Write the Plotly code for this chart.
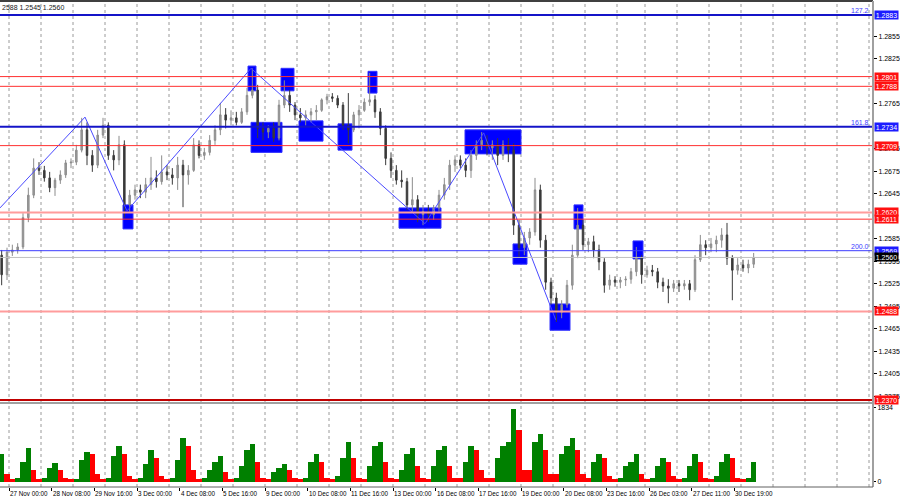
import plotly.graph_objects as go

# ---------------- data (4-hour candles, hour index from 26 Nov 17:00) ----------------
opens = [
    1.2563, 1.2537, 1.2567, 1.2570, 1.2574, 1.2613, 1.2643, 1.2679, 1.2676, 1.2666,
    1.2653, 1.2663, 1.2670, 1.2686, 1.2687, 1.2703, 1.2730, 1.2696, 1.2683, 1.2723,
    1.2736, 1.2696, 1.2690, 1.2710, 1.2630, 1.2643, 1.2650, 1.2647, 1.2657, 1.2666,
    1.2661, 1.2674, 1.2670, 1.2666, 1.2683, 1.2670, 1.2676, 1.2710, 1.2696, 1.2700,
    1.2716, 1.2730, 1.2750, 1.2743, 1.2746, 1.2740, 1.2754, 1.2776, 1.2783, 1.2732,
    1.2727, 1.2732, 1.2719, 1.2763, 1.2776, 1.2763, 1.2750, 1.2746, 1.2750, 1.2754,
    1.2756, 1.2770, 1.2774, 1.2772, 1.2763, 1.2736, 1.2730, 1.2750, 1.2756, 1.2767,
    1.2770, 1.2754, 1.2732, 1.2692, 1.2676, 1.2663, 1.2661, 1.2630, 1.2637, 1.2617,
    1.2621, 1.2617, 1.2626, 1.2643, 1.2657, 1.2683, 1.2690, 1.2683, 1.2676, 1.2696,
    1.2710, 1.2716, 1.2706, 1.2710, 1.2696, 1.2710, 1.2703, 1.2603, 1.2573, 1.2586,
    1.2594, 1.2650, 1.2583, 1.2527, 1.2506, 1.2487, 1.2497, 1.2523, 1.2563, 1.2603,
    1.2577, 1.2581, 1.2570, 1.2554, 1.2523, 1.2530, 1.2527, 1.2530, 1.2531, 1.2541,
    1.2559, 1.2537, 1.2543, 1.2541, 1.2527, 1.2522, 1.2519, 1.2525, 1.2522, 1.2525,
    1.2517, 1.2557, 1.2577, 1.2573, 1.2578, 1.2583, 1.2590, 1.2559, 1.2543, 1.2550,
    1.2546, 1.2551,
]
highs = [
    1.2570, 1.2573, 1.2577, 1.2579, 1.2619, 1.2653, 1.2692, 1.2687, 1.2682, 1.2674,
    1.2666, 1.2676, 1.2690, 1.2692, 1.2710, 1.2746, 1.2740, 1.2703, 1.2730, 1.2746,
    1.2740, 1.2703, 1.2722, 1.2716, 1.2650, 1.2657, 1.2657, 1.2666, 1.2694, 1.2676,
    1.2696, 1.2683, 1.2679, 1.2694, 1.2690, 1.2683, 1.2719, 1.2716, 1.2706, 1.2723,
    1.2736, 1.2766, 1.2759, 1.2756, 1.2754, 1.2759, 1.2786, 1.2812, 1.2790, 1.2740,
    1.2736, 1.2740, 1.2770, 1.2796, 1.2783, 1.2767, 1.2759, 1.2756, 1.2759, 1.2763,
    1.2772, 1.2778, 1.2779, 1.2776, 1.2767, 1.2779, 1.2754, 1.2763, 1.2772, 1.2806,
    1.2776, 1.2759, 1.2736, 1.2700, 1.2683, 1.2676, 1.2666, 1.2667, 1.2643, 1.2630,
    1.2630, 1.2630, 1.2650, 1.2666, 1.2690, 1.2696, 1.2696, 1.2692, 1.2703, 1.2716,
    1.2727, 1.2723, 1.2716, 1.2719, 1.2716, 1.2719, 1.2712, 1.2610, 1.2594, 1.2599,
    1.2666, 1.2657, 1.2590, 1.2533, 1.2513, 1.2503, 1.2530, 1.2577, 1.2626, 1.2610,
    1.2586, 1.2589, 1.2577, 1.2559, 1.2537, 1.2535, 1.2534, 1.2535, 1.2546, 1.2574,
    1.2563, 1.2549, 1.2550, 1.2546, 1.2533, 1.2531, 1.2530, 1.2530, 1.2530, 1.2530,
    1.2563, 1.2590, 1.2583, 1.2586, 1.2589, 1.2599, 1.2606, 1.2563, 1.2559, 1.2557,
    1.2557, 1.2566,
]
lows = [
    1.2523, 1.2530, 1.2562, 1.2565, 1.2571, 1.2607, 1.2639, 1.2670, 1.2661, 1.2647,
    1.2642, 1.2658, 1.2666, 1.2679, 1.2683, 1.2700, 1.2683, 1.2674, 1.2679, 1.2719,
    1.2690, 1.2676, 1.2683, 1.2613, 1.2621, 1.2637, 1.2639, 1.2639, 1.2650, 1.2653,
    1.2657, 1.2663, 1.2657, 1.2650, 1.2627, 1.2657, 1.2674, 1.2692, 1.2690, 1.2696,
    1.2710, 1.2723, 1.2732, 1.2736, 1.2736, 1.2738, 1.2750, 1.2772, 1.2719, 1.2716,
    1.2719, 1.2714, 1.2716, 1.2759, 1.2754, 1.2743, 1.2740, 1.2736, 1.2740, 1.2743,
    1.2754, 1.2764, 1.2767, 1.2759, 1.2730, 1.2712, 1.2727, 1.2732, 1.2754, 1.2762,
    1.2746, 1.2723, 1.2683, 1.2666, 1.2657, 1.2653, 1.2623, 1.2621, 1.2607, 1.2603,
    1.2607, 1.2610, 1.2621, 1.2637, 1.2650, 1.2674, 1.2679, 1.2667, 1.2666, 1.2690,
    1.2703, 1.2696, 1.2690, 1.2683, 1.2690, 1.2687, 1.2590, 1.2561, 1.2563, 1.2577,
    1.2589, 1.2573, 1.2517, 1.2497, 1.2474, 1.2479, 1.2493, 1.2517, 1.2559, 1.2570,
    1.2567, 1.2559, 1.2543, 1.2513, 1.2517, 1.2521, 1.2519, 1.2522, 1.2525, 1.2535,
    1.2525, 1.2533, 1.2535, 1.2519, 1.2514, 1.2499, 1.2514, 1.2514, 1.2517, 1.2503,
    1.2514, 1.2554, 1.2563, 1.2567, 1.2567, 1.2573, 1.2550, 1.2503, 1.2537, 1.2541,
    1.2539, 1.2546,
]
closes = [
    1.2537, 1.2567, 1.2570, 1.2574, 1.2613, 1.2643, 1.2679, 1.2676, 1.2666, 1.2653,
    1.2663, 1.2670, 1.2686, 1.2687, 1.2703, 1.2730, 1.2696, 1.2683, 1.2723, 1.2736,
    1.2696, 1.2690, 1.2710, 1.2630, 1.2643, 1.2650, 1.2647, 1.2657, 1.2666, 1.2661,
    1.2674, 1.2670, 1.2666, 1.2683, 1.2670, 1.2676, 1.2710, 1.2696, 1.2700, 1.2716,
    1.2730, 1.2750, 1.2743, 1.2746, 1.2740, 1.2754, 1.2776, 1.2783, 1.2732, 1.2727,
    1.2732, 1.2719, 1.2763, 1.2776, 1.2763, 1.2750, 1.2746, 1.2750, 1.2754, 1.2756,
    1.2770, 1.2774, 1.2772, 1.2763, 1.2736, 1.2730, 1.2750, 1.2756, 1.2767, 1.2770,
    1.2754, 1.2732, 1.2692, 1.2676, 1.2663, 1.2661, 1.2630, 1.2637, 1.2617, 1.2621,
    1.2617, 1.2626, 1.2643, 1.2657, 1.2683, 1.2690, 1.2683, 1.2676, 1.2696, 1.2710,
    1.2716, 1.2706, 1.2710, 1.2696, 1.2710, 1.2703, 1.2603, 1.2573, 1.2586, 1.2594,
    1.2650, 1.2583, 1.2527, 1.2506, 1.2487, 1.2497, 1.2523, 1.2563, 1.2603, 1.2577,
    1.2581, 1.2570, 1.2554, 1.2523, 1.2530, 1.2527, 1.2530, 1.2531, 1.2541, 1.2559,
    1.2537, 1.2543, 1.2541, 1.2527, 1.2522, 1.2519, 1.2525, 1.2522, 1.2525, 1.2517,
    1.2557, 1.2577, 1.2573, 1.2578, 1.2583, 1.2590, 1.2559, 1.2543, 1.2550, 1.2546,
    1.2551, 1.2560,
]
volumes = [
    700, 200, 80, 100, 500, 850, 300, 80, 90, 350,
    480, 300, 100, 70, 80, 550, 750, 700, 200, 80,
    100, 650, 900, 700, 150, 80, 100, 450, 800, 600,
    150, 80, 100, 550, 1100, 900, 300, 80, 100, 300,
    500, 650, 250, 80, 100, 400, 800, 950, 500, 90,
    80, 250, 350, 450, 300, 90, 80, 100, 500, 700,
    500, 90, 80, 150, 600, 1000, 600, 90, 80, 400,
    900, 1000, 500, 100, 80, 300, 700, 850, 400, 90,
    80, 400, 800, 900, 400, 100, 100, 500, 900, 800,
    300, 100, 100, 600, 900, 1000, 1800, 1300, 300, 300,
    1000, 1200, 800, 200, 200, 700, 900, 1100, 800, 200,
    100, 500, 700, 600, 150, 80, 100, 400, 500, 700,
    200, 80, 100, 400, 600, 500, 150, 80, 100, 400,
    700, 500, 100, 80, 150, 500, 700, 600, 100, 80,
    100, 500,
]
HOURS_PER_CANDLE = 4

# time-axis labels (hour index -> text)
label_hours = [7, 39, 71, 103, 135, 167, 199, 231, 263, 295, 327, 359, 391, 423, 455, 487, 519, 551]
label_texts = ["27 Nov 00:00", "28 Nov 08:00", "29 Nov 16:00", "3 Dec 00:00", "4 Dec 08:00",
               "5 Dec 16:00", "9 Dec 00:00", "10 Dec 08:00", "11 Dec 16:00", "13 Dec 00:00",
               "16 Dec 08:00", "17 Dec 16:00", "19 Dec 00:00", "20 Dec 08:00", "23 Dec 16:00",
               "26 Dec 03:00", "27 Dec 11:00", "30 Dec 19:00"]
# daily period separators (hour index)
day_hours = [7, 31, 55, 79, 103, 127, 151, 175, 199, 223, 247, 271, 295, 319, 343, 367, 391,
             415, 439, 463, 484, 508, 532, 556, 580, 604, 628, 652]

# zigzag vertices (hour index, price)
zz_hours = [0.25, 64, 95.5, 188.5, 319, 363, 417]
zz_prices = [1.2626, 1.2747, 1.2622, 1.2812, 1.2605, 1.2726, 1.2477]

# blue zones (start hour, end hour, low, high)
zone_start = [92.5, 186.25, 188.5, 211, 224.5, 253.75, 276.25, 299.5, 349, 385, 412.75, 430.75, 475]
zone_end = [100, 192.25, 211.75, 220.75, 242.5, 264.25, 283, 331, 391, 395.5, 427.75, 437.5, 482.5]
zone_low = [1.2598, 1.2782, 1.2700, 1.2782, 1.2715, 1.2703, 1.2779, 1.2599, 1.2698, 1.2551, 1.2463, 1.2598, 1.2558]
zone_high = [1.2630, 1.2815, 1.2740, 1.2812, 1.2742, 1.2738, 1.2808, 1.2626, 1.2730, 1.2578, 1.2498, 1.2630, 1.2582]

# horizontal levels
level_prices = [1.2883, 1.2801, 1.2788, 1.2734, 1.2709, 1.2620, 1.2611, 1.2569, 1.2560, 1.2488, 1.2370]
level_kind = ["fib", "red", "red", "fib", "red", "pink", "red", "fib2", "bid", "pink", "dark"]
fib_prices = [1.2883, 1.2734, 1.2569]
fib_texts = ["127.2", "161.8", "200.0"]

# price-scale labels that are not hidden under the level boxes
price_ticks = [1.2375, 1.2405, 1.2435, 1.2465, 1.2495, 1.2525, 1.2555, 1.2585,
               1.2645, 1.2675, 1.2705, 1.2765, 1.2825, 1.2855]
volume_ticks = [0, 1834]
header_text = "2588 1.2545 1.2560"

# ---------------- figure ----------------
FONT = "Liberation Sans, Arial, sans-serif"
candle_hours = [HOURS_PER_CANDLE * k + 1.5 for k in range(len(closes))]
vol_colors = []
for i, v in enumerate(volumes):
    up = i == 0 or v > volumes[i - 1]
    vol_colors.append("#008000" if up else "#ff0000")

fig = go.Figure()

fig.add_trace(go.Candlestick(
    x=candle_hours, open=opens, high=highs, low=lows, close=closes,
    increasing=dict(line=dict(color="#8c8c8c", width=1), fillcolor="#9c9c9c"),
    decreasing=dict(line=dict(color="#3a3a3a", width=1), fillcolor="#3a3a3a"),
    whiskerwidth=0, xaxis="x", yaxis="y", showlegend=False, hoverinfo="skip",
))
fig.add_trace(go.Scatter(
    x=zz_hours, y=zz_prices, mode="lines", line=dict(color="#4a4aff", width=1),
    xaxis="x", yaxis="y", showlegend=False, hoverinfo="skip",
))
fig.add_trace(go.Bar(
    x=candle_hours, y=volumes, marker=dict(color=vol_colors, line=dict(width=0)),
    xaxis="x2", yaxis="y2", showlegend=False, hoverinfo="skip",
))

shapes = []
# period separators
for h in day_hours:
    shapes.append(dict(type="line", xref="x", yref="paper", x0=h, x1=h, y0=0, y1=1,
                       line=dict(color="#9a9a9a", width=1, dash="dot"), layer="below"))
# zones
for a, b, lo, hi in zip(zone_start, zone_end, zone_low, zone_high):
    shapes.append(dict(type="rect", xref="x", yref="y", x0=a, x1=b, y0=lo, y1=hi,
                       fillcolor="#0000ff", line=dict(color="#3030ff", width=1), layer="between"))
# horizontal levels
style = {
    "fib": dict(color="#1414c8", width=2),
    "fib2": dict(color="#3c3cff", width=1),
    "red": dict(color="#ff3030", width=1),
    "pink": dict(color="#ff9c9c", width=2),
    "bid": dict(color="#c0c0c0", width=1),
    "dark": dict(color="#c00000", width=2),
}
for p, kind in zip(level_prices, level_kind):
    shapes.append(dict(type="line", xref="paper", yref="y", x0=0, x1=1, y0=p, y1=p,
                       line=style[kind], layer="above"))
# frame
shapes += [
    dict(type="line", xref="paper", yref="paper", x0=0, x1=1, y0=1, y1=1,
         line=dict(color="#404040", width=2)),
    dict(type="line", xref="paper", yref="paper", x0=1, x1=1, y0=0, y1=1,
         line=dict(color="#a0a0a0", width=2)),
    dict(type="line", xref="paper", yref="paper", x0=0, x1=1, y0=0, y1=0,
         line=dict(color="#606060", width=1)),
    dict(type="line", xref="paper", yref="paper", x0=0, x1=1, y0=0.1728, y1=0.1728,
         line=dict(color="#a0a0a0", width=2)),
]

annotations = []
box_color = {"fib": "#1c1cff", "fib2": "#1c1cff", "red": "#ff1010", "pink": "#ff1010",
             "bid": "#000000", "dark": "#ff1010"}
for p, kind in zip(level_prices, level_kind):
    annotations.append(dict(xref="paper", yref="y", x=1, y=p, xanchor="left", yanchor="middle",
                            xshift=1, text=f"{p:.4f}", showarrow=False,
                            font=dict(family=FONT, size=7, color="#ffffff"),
                            bgcolor=box_color[kind], borderpad=0, width=23, height=8, align="center"))
for p, t in zip(fib_prices, fib_texts):
    annotations.append(dict(xref="paper", yref="y", x=1, y=p, xanchor="right", yanchor="bottom",
                            xshift=-2, yshift=-1, text=t, showarrow=False,
                            font=dict(family=FONT, size=7, color="#3c3cff")))
for h, t in zip(label_hours, label_texts):
    annotations.append(dict(xref="x2", yref="paper", x=h, y=0, xanchor="left", yanchor="top",
                            xshift=-1, yshift=-1, text=t, showarrow=False,
                            font=dict(family=FONT, size=6.3, color="#000000")))
annotations.append(dict(xref="paper", yref="paper", x=0, y=1, xanchor="left", yanchor="top",
                        yshift=-1, text=header_text, showarrow=False,
                        font=dict(family=FONT, size=7, color="#202020")))

fig.update_layout(
    width=900, height=500,
    margin=dict(l=0, r=27, t=1, b=13),
    paper_bgcolor="#ffffff", plot_bgcolor="#ffffff",
    showlegend=False, bargap=0, boxgap=0.6,
    xaxis=dict(domain=[0, 1], range=[0.25, 655], anchor="y", showgrid=False, zeroline=False,
               showticklabels=False, ticks="", rangeslider=dict(visible=False), fixedrange=True),
    yaxis=dict(domain=[0.1749, 1], range=[1.23674, 1.29017], side="right", anchor="x",
               tickvals=price_ticks, ticktext=[f"{v:.4f}" for v in price_ticks],
               ticks="outside", ticklen=3, tickcolor="#000000", showgrid=False, zeroline=False,
               tickfont=dict(family=FONT, size=7, color="#000000")),
    xaxis2=dict(domain=[0, 1], range=[0.25, 655], anchor="y2", matches="x", showgrid=False,
                zeroline=False, showticklabels=False, tickvals=label_hours, ticks="outside",
                ticklen=3, tickcolor="#000000"),
    yaxis2=dict(domain=[0, 0.1708], range=[-124, 1933], side="right", anchor="x2",
                tickvals=volume_ticks, ticktext=[str(v) for v in volume_ticks],
                ticks="outside", ticklen=2, tickcolor="#000000", showgrid=False, zeroline=False,
                tickfont=dict(family=FONT, size=7, color="#000000")),
    shapes=shapes, annotations=annotations,
)

fig.write_html("out.html", config={"displayModeBar": False, "staticPlot": True},
               post_script="document.body.style.margin='0';document.body.style.overflow='hidden';")
